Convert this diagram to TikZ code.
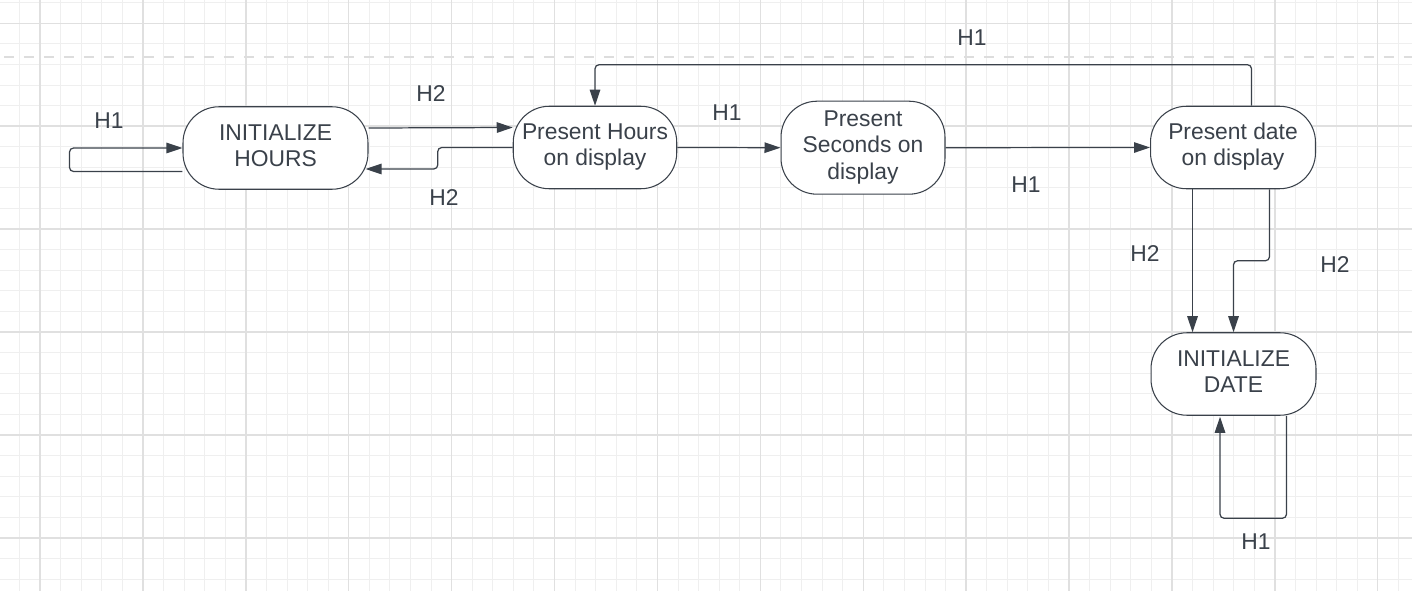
\documentclass[tikz,border=0pt]{standalone}
\usepackage{fontspec}
\setmainfont{Liberation Sans}
\usetikzlibrary{arrows.meta}
\definecolor{ink}{HTML}{3A414A}
\definecolor{gridmin}{HTML}{EFEFEF}
\definecolor{gridmaj}{HTML}{E0E0E0}
\definecolor{dashc}{HTML}{DDDDDD}
\pgfdeclarelayer{bg}
\pgfdeclarelayer{wires}
\pgfsetlayers{bg,wires,main}
\tikzset{
  state/.style={draw=ink, fill=white, line width=0.6pt, rounded corners=0.72cm,
    minimum height=1.65cm, align=center, text=ink, inner sep=0pt,
    font=\fontsize{13}{15}\selectfont},
  wire/.style={draw=ink, line width=0.7pt, rounded corners=0.08cm,
    -{Triangle[length=0.32cm,width=0.21cm]}},
  lab/.style={text=ink, font=\fontsize{13}{15}\selectfont},
}
\begin{document}
\begin{tikzpicture}[x=0.02cm,y=-0.02cm]
\useasboundingbox (0,0) rectangle (1412,591);
\begin{pgfonlayer}{bg}
\fill[white] (0,0) rectangle (1412,591);
\foreach \k in {0,...,69} \draw[gridmin,line width=0.5pt] ({-1.16+20.58*\k},0) -- ({-1.16+20.58*\k},591);
\foreach \k in {0,...,28} \draw[gridmin,line width=0.5pt] (0,{2.7+20.58*\k}) -- (1412,{2.7+20.58*\k});
\foreach \k in {0,...,13} \draw[gridmaj,line width=0.8pt] ({40+102.9*\k},0) -- ({40+102.9*\k},591);
\foreach \k in {0,...,5} \draw[gridmaj,line width=0.8pt] (0,{23.3+102.9*\k}) -- (1412,{23.3+102.9*\k});
\draw[dashc,line width=1.7pt,dash pattern=on 0.21cm off 0.19cm] (4,57) -- (1412,57);
\end{pgfonlayer}
\node[state,minimum width=3.7cm] (inithours) at (275.5,148) {\strut INITIALIZE\\HOURS\strut};
\node[state,minimum width=3.27cm] (prhours) at (595,147.5) {\strut Present Hours\\on display\strut};
\node[state,minimum width=3.28cm,minimum height=1.86cm] (prsec) at (863,147.7) {\strut Present\\Seconds on\\display\strut};
\node[state,minimum width=3.3cm] (prdate) at (1233,147.5) {\strut Present date\\on display\strut};
\node[state,minimum width=3.3cm] (initdate) at (1233.5,374) {\strut INITIALIZE\\DATE\strut};
\coordinate (d1) at ([xshift=-0.81cm]prdate.south);
\coordinate (d2) at ([xshift=0.73cm]prdate.south);
\coordinate (d3) at ([xshift=1.06cm]initdate.south);
\begin{pgfonlayer}{wires}
\draw[wire] ([yshift=-0.47cm]inithours.west) -- ++(-2.26cm,0) |- (inithours.west);
\draw[wire] ([yshift=0.4cm]inithours.east) -- ([yshift=0.4cm]prhours.west);
\draw[wire] (prhours.west) -- ++(-1.5cm,0) |- ([yshift=-0.42cm,xshift=-0.06cm]inithours.east);
\draw[wire] (prhours.east) -- (prsec.west);
\draw[wire] (prsec.east) -- (prdate.west);
\draw[wire] ([xshift=0.37cm]prdate.north) -- ++(0,0.82cm) -| (prhours.north);
\draw[wire] (d1) -- (d1 |- initdate.north);
\draw[wire] (d2) -- ++(0,-1.43cm) -| (initdate.north);
\draw[wire] (d3) -- ++(0,-2.05cm) -| ([xshift=-0.27cm,yshift=-0.02cm]initdate.south);
\end{pgfonlayer}
\node[lab] (l1) at (109,121) {H1};
\node[lab] (l2) at (431,94) {H2};
\node[lab] (l3) at (444,198) {H2};
\node[lab] (l4) at (727,113) {H1};
\node[lab] (l5) at (1026,185) {H1};
\node[lab] (l6) at (972,38) {H1};
\node[lab] (l7) at (1145,254) {H2};
\node[lab] (l8) at (1335,265) {H2};
\node[lab] (l9) at (1256,542) {H1};
\end{tikzpicture}
\end{document}
